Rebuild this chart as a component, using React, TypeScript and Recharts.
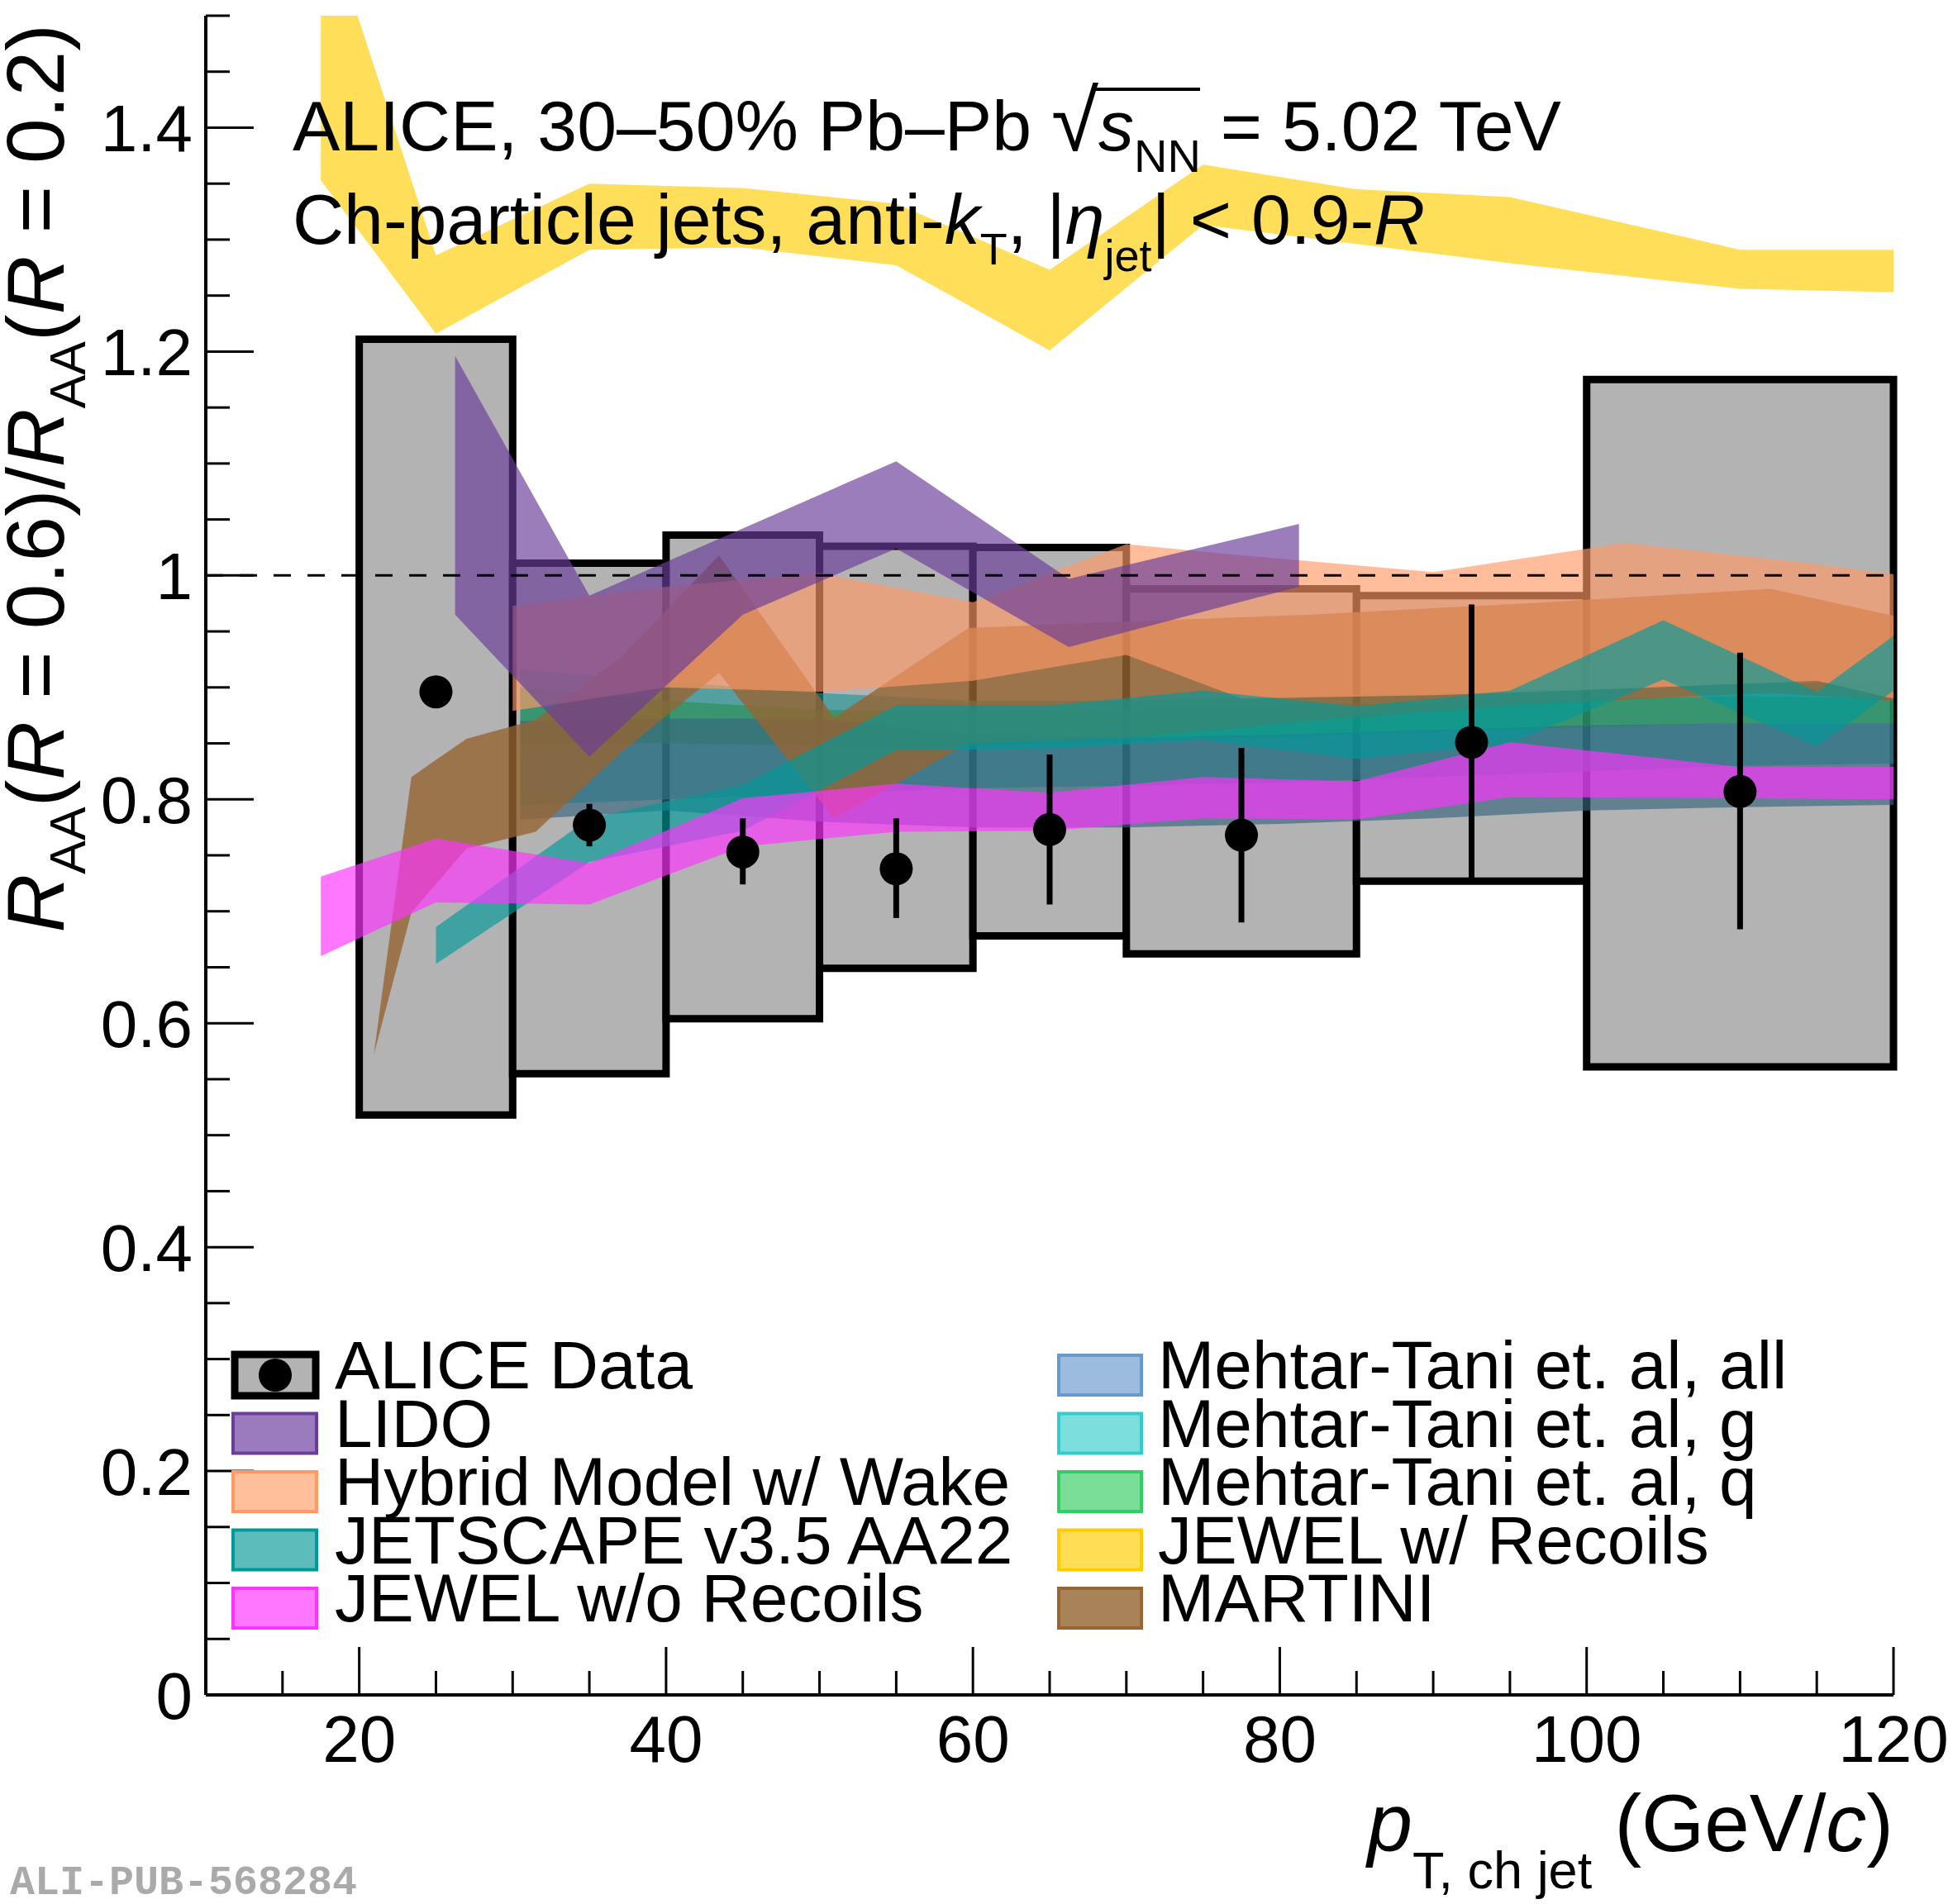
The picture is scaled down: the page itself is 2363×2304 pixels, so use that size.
import React from 'react';
import {
  ComposedChart,
  Area,
  Scatter,
  ErrorBar,
  XAxis,
  YAxis,
  ReferenceArea,
  ReferenceLine,
} from 'recharts';

const W = 2363;
const H = 2304;
const FONT = '"Liberation Sans", Arial, Helvetica, sans-serif';

// ALICE data: bins, ratio, stat and sys uncertainties
const binLow = [20, 30, 40, 50, 60, 70, 85, 100];
const binHigh = [30, 40, 50, 60, 70, 85, 100, 120];
const ptCenter = [25, 35, 45, 55, 65, 77.5, 92.5, 110];
const ratio = [0.896, 0.777, 0.753, 0.738, 0.773, 0.768, 0.851, 0.807];
const statUp = [0.01, 0.019, 0.03, 0.045, 0.067, 0.078, 0.123, 0.124];
const statDown = [0.01, 0.019, 0.029, 0.044, 0.067, 0.078, 0.121, 0.123];
const sysLow = [0.518, 0.555, 0.604, 0.649, 0.678, 0.662, 0.727, 0.561];
const sysHigh = [1.211, 1.011, 1.036, 1.026, 1.025, 0.988, 0.982, 1.175];

// model bands
const jewelX = [17.5, 25, 35, 45, 55, 65, 75, 85, 95, 110, 120];
const jewelRecLow = [1.353, 1.216, 1.291, 1.293, 1.277, 1.201, 1.313, 1.296, 1.279, 1.256, 1.253];
const jewelRecHigh = [1.6, 1.286, 1.35, 1.346, 1.332, 1.273, 1.367, 1.345, 1.338, 1.291, 1.291];
const jewelNoRecLow = [0.66, 0.708, 0.706, 0.758, 0.771, 0.772, 0.783, 0.782, 0.802, 0.801, 0.8];
const jewelNoRecHigh = [0.731, 0.765, 0.743, 0.801, 0.814, 0.806, 0.82, 0.816, 0.851, 0.829, 0.829];

const lidoX = [26.25, 35, 45, 55, 66.25, 81.25];
const lidoLow = [0.965, 0.838, 0.965, 1.024, 0.936, 0.99];
const lidoHigh = [1.196, 0.982, 1.042, 1.102, 0.997, 1.046];

const hybridX = [30, 40, 50, 60, 70, 77.5, 90, 102.5, 115, 120];
const hybridLow = [0.879, 0.9, 0.896, 0.906, 0.929, 0.89, 0.893, 0.899, 0.906, 0.89];
const hybridHigh = [0.973, 0.99, 1.002, 0.976, 1.028, 1.018, 1.003, 1.029, 1.01, 1.001];

const jetscapeX = [25, 35, 45, 55, 65, 75, 85, 95, 105, 115, 120];
const jetscapeLow = [0.653, 0.744, 0.772, 0.844, 0.845, 0.853, 0.836, 0.85, 0.907, 0.847, 0.897];
const jetscapeHigh = [0.686, 0.783, 0.813, 0.884, 0.884, 0.897, 0.883, 0.897, 0.96, 0.896, 0.946];

const martiniX = [20.95, 23.4, 27, 31.5, 37, 43.45, 50.95, 59.7, 70, 82, 96, 112, 120];
const martiniLow = [0.572, 0.699, 0.756, 0.771, 0.841, 0.913, 0.783, 0.85, 0.855, 0.87, 0.885, 0.895, 0.888];
const martiniHigh = [0.572, 0.82, 0.854, 0.871, 0.926, 1.018, 0.873, 0.953, 0.959, 0.965, 0.975, 0.988, 0.964];

const mehtarX = [30.5, 40, 50, 60, 70, 80, 90, 100, 110, 120];
const mehtarAllLow = [0.782, 0.79, 0.78, 0.775, 0.775, 0.778, 0.783, 0.79, 0.793, 0.795];
const mehtarAllHigh = [0.87, 0.872, 0.872, 0.858, 0.855, 0.858, 0.862, 0.866, 0.868, 0.868];
const mehtarGLow = [0.795, 0.8, 0.805, 0.81, 0.812, 0.815, 0.82, 0.825, 0.83, 0.832];
const mehtarGHigh = [0.916, 0.905, 0.895, 0.888, 0.888, 0.892, 0.895, 0.9, 0.903, 0.905];
const mehtarQLow = [0.85, 0.85, 0.848, 0.848, 0.852, 0.856, 0.86, 0.865, 0.868, 0.868];
const mehtarQHigh = [0.9, 0.888, 0.88, 0.878, 0.88, 0.884, 0.886, 0.89, 0.892, 0.89];

const xTicks = [15, 20, 25, 30, 35, 40, 45, 50, 55, 60, 65, 70, 75, 80, 85, 90, 95, 100, 105, 110, 115, 120];
const yTicks = [0, 0.05, 0.1, 0.15, 0.2, 0.25, 0.3, 0.35, 0.4, 0.45, 0.5, 0.55, 0.6, 0.65, 0.7, 0.75,
  0.8, 0.85, 0.9, 0.95, 1, 1.05, 1.1, 1.15, 1.2, 1.25, 1.3, 1.35, 1.4, 1.45, 1.5];

const band = (x: number[], lo: number[], hi: number[]) =>
  x.map((v, i) => ({ x: v, r: [lo[i], hi[i]] }));

// drawing order matters for the overlaps
const models = [
  { name: 'Mehtar-Tani g', data: band(mehtarX, mehtarGLow, mehtarGHigh), color: '#229696', alpha: 0.65 },
  { name: 'Mehtar-Tani q', data: band(mehtarX, mehtarQLow, mehtarQHigh), color: '#2b8f55', alpha: 0.65 },
  { name: 'Mehtar-Tani all', data: band(mehtarX, mehtarAllLow, mehtarAllHigh), color: '#38667e', alpha: 0.65 },
  { name: 'MARTINI', data: band(martiniX, martiniLow, martiniHigh), color: '#966432', alpha: 0.8 },
  { name: 'Hybrid', data: band(hybridX, hybridLow, hybridHigh), color: '#ff9966', alpha: 0.65 },
  { name: 'JETSCAPE', data: band(jetscapeX, jetscapeLow, jetscapeHigh), color: '#009999', alpha: 0.65 },
  { name: 'LIDO', data: band(lidoX, lidoLow, lidoHigh), color: '#6a3d9a', alpha: 0.67 },
  { name: 'JEWEL w/o', data: band(jewelX, jewelNoRecLow, jewelNoRecHigh), color: '#ff33ff', alpha: 0.67 },
  { name: 'JEWEL w/', data: band(jewelX, jewelRecLow, jewelRecHigh), color: '#ffcc00', alpha: 0.65 },
];

const points = ptCenter.map((x, i) => ({ x, y: ratio[i], err: [statDown[i], statUp[i]] }));

const legendLeft = [
  { label: 'LIDO', fill: '#9b7bbd', stroke: '#6a3d9a' },
  { label: 'Hybrid Model w/ Wake', fill: '#ffbf9b', stroke: '#ff9966' },
  { label: 'JETSCAPE v3.5 AA22', fill: '#5cbcbc', stroke: '#009999' },
  { label: 'JEWEL w/o Recoils', fill: '#ff77ff', stroke: '#ff33ff' },
];
const legendRight = [
  { label: 'Mehtar-Tani et. al, all', fill: '#9bbbdf', stroke: '#6699cc' },
  { label: 'Mehtar-Tani et. al, g', fill: '#7ddede', stroke: '#33cccc' },
  { label: 'Mehtar-Tani et. al, q', fill: '#7ade99', stroke: '#33cc66' },
  { label: 'JEWEL w/ Recoils', fill: '#ffdd55', stroke: '#ffcc00' },
  { label: 'MARTINI', fill: '#a8835a', stroke: '#996633' },
];

const isMajorX = (v: number) => v % 20 === 0;
const isMajorY = (v: number) => Math.abs(v * 5 - Math.round(v * 5)) < 1e-6;
const MAJOR = 58;
const MINOR = 29;

const BottomTick = (props: any) => {
  const { x, y, payload } = props;
  const v = payload.value;
  const major = isMajorX(v);
  return (
    <g>
      <line x1={x} x2={x} y1={y} y2={y - (major ? MAJOR : MINOR)} stroke="#000" strokeWidth={3} />
      {major && (
        <text x={x} y={y + 81} textAnchor="middle" fontSize={80} fontFamily={FONT} fill="#000">
          {v}
        </text>
      )}
    </g>
  );
};

const TopTick = (props: any) => {
  const { x, y, payload } = props;
  const len = isMajorX(payload.value) ? MAJOR : MINOR;
  return <line x1={x} x2={x} y1={y} y2={y + len} stroke="#000" strokeWidth={3} />;
};

const LeftTick = (props: any) => {
  const { x, y, payload } = props;
  const v = payload.value;
  const major = isMajorY(v);
  return (
    <g>
      <line x1={x} x2={x + (major ? MAJOR : MINOR)} y1={y} y2={y} stroke="#000" strokeWidth={3} />
      {major && (
        <text x={x - 16} y={y + 29} textAnchor="end" fontSize={80} fontFamily={FONT} fill="#000">
          {String(Math.round(v * 10) / 10)}
        </text>
      )}
    </g>
  );
};

const RightTick = (props: any) => {
  const { x, y, payload } = props;
  const len = isMajorY(payload.value) ? MAJOR : MINOR;
  return <line x1={x} x2={x - len} y1={y} y2={y} stroke="#000" strokeWidth={3} />;
};

const frame = { stroke: '#000', strokeWidth: 4 };

const Overlay = () => {
  const rowY = (i: number) => 1664 + i * 70.5;
  return (
    <svg
      width={W}
      height={H}
      style={{ position: 'absolute', left: 0, top: 0, pointerEvents: 'none', whiteSpace: 'pre' }}
      fontFamily={FONT}
    >
      {/* header */}
      <text x={354} y={182} fontSize={86} fill="#000">
        ALICE, 30–50% Pb–Pb <tspan fontSize={104}>√</tspan>
        <tspan fontStyle="italic">s</tspan>
        <tspan fontSize={56} dy={26}>NN</tspan>
        <tspan dy={-26}> = 5.02 TeV</tspan>
      </text>
      <line x1={1322} x2={1452} y1={108} y2={108} stroke="#000" strokeWidth={4} />
      <text x={354} y={295} fontSize={86} fill="#000">
        Ch-particle jets, anti-<tspan fontStyle="italic">k</tspan>
        <tspan fontSize={54} dy={25}>T</tspan>
        <tspan dy={-25}>, |</tspan>
        <tspan fontStyle="italic">η</tspan>
        <tspan fontSize={54} dy={33}>jet</tspan>
        <tspan dy={-33}>| &lt; 0.9-</tspan>
        <tspan fontStyle="italic">R</tspan>
      </text>

      {/* axis titles */}
      <text transform="translate(77,29) rotate(-90)" textAnchor="end" fontSize={98} fill="#000">
        <tspan fontStyle="italic">R</tspan>
        <tspan fontSize={61} dy={26}>AA</tspan>
        <tspan dy={-26}>(</tspan>
        <tspan fontStyle="italic">R</tspan>
        <tspan> = 0.6)/</tspan>
        <tspan fontStyle="italic">R</tspan>
        <tspan fontSize={61} dy={26}>AA</tspan>
        <tspan dy={-26}>(</tspan>
        <tspan fontStyle="italic">R</tspan>
        <tspan> = 0.2)</tspan>
      </text>
      <text x={2291} y={2240} textAnchor="end" fontSize={98} fill="#000">
        <tspan fontStyle="italic">p</tspan>
        <tspan fontSize={63} dy={45}>T, ch jet</tspan>
        <tspan dy={-45}> (GeV/</tspan>
        <tspan fontStyle="italic">c</tspan>
        <tspan>)</tspan>
      </text>

      {/* legend */}
      <rect x={284} y={1639} width={98} height={50} fill="#b3b3b3" stroke="#000" strokeWidth={9} />
      <circle cx={333} cy={rowY(0)} r={20} fill="#000" />
      <text x={405} y={rowY(0) + 16} fontSize={82} fill="#000">ALICE Data</text>
      {legendLeft.map((e, i) => (
        <g key={e.label}>
          <rect x={282} y={rowY(i + 1) - 24} width={101} height={48} fill={e.fill} stroke={e.stroke} strokeWidth={4} />
          <text x={405} y={rowY(i + 1) + 16} fontSize={82} fill="#000">{e.label}</text>
        </g>
      ))}
      {legendRight.map((e, i) => (
        <g key={e.label}>
          <rect x={1281} y={rowY(i) - 24} width={100} height={48} fill={e.fill} stroke={e.stroke} strokeWidth={4} />
          <text x={1401} y={rowY(i) + 16} fontSize={82} fill="#000">{e.label}</text>
        </g>
      ))}

      <text x={12} y={2292} fontSize={50} fontWeight="bold" fontFamily='"Liberation Mono", "DejaVu Sans Mono", monospace' fill="#aaaaaa">
        ALI-PUB-568284
      </text>
    </svg>
  );
};

export default function App() {
  return (
    <div style={{ position: 'absolute', left: 0, top: 0, width: W, height: H, background: '#fff', fontFamily: FONT }}>
      <ComposedChart width={W} height={H} margin={{ top: 19, right: 72, bottom: 0, left: 0 }}>
        <XAxis
          xAxisId={0}
          dataKey="x"
          type="number"
          domain={[10, 120]}
          ticks={xTicks}
          interval={0}
          allowDataOverflow
          height={253}
          tickLine={false}
          tickSize={0}
          tickMargin={0}
          axisLine={frame}
          tick={BottomTick}
        />
        <XAxis
          xAxisId="top"
          dataKey="x"
          orientation="top"
          type="number"
          domain={[10, 120]}
          ticks={xTicks}
          interval={0}
          allowDataOverflow
          height={0}
          tickLine={false}
          tickSize={0}
          tickMargin={0}
          axisLine={frame}
          tick={TopTick}
        />
        <YAxis
          yAxisId={0}
          type="number"
          domain={[0, 1.5]}
          ticks={yTicks}
          interval={0}
          allowDataOverflow
          width={249}
          tickLine={false}
          tickSize={0}
          tickMargin={0}
          axisLine={frame}
          tick={LeftTick}
        />
        <YAxis
          yAxisId="right"
          orientation="right"
          type="number"
          domain={[0, 1.5]}
          ticks={yTicks}
          interval={0}
          allowDataOverflow
          width={0}
          tickLine={false}
          tickSize={0}
          tickMargin={0}
          axisLine={frame}
          tick={RightTick}
        />

        {binLow.map((lo, i) => (
          <ReferenceArea
            key={'sys' + i}
            x1={lo}
            x2={binHigh[i]}
            y1={sysLow[i]}
            y2={sysHigh[i]}
            fill="#b3b3b3"
            fillOpacity={1}
            stroke="#000"
            strokeWidth={9}
            zIndex={10}
          />
        ))}

        {models.map((m) => (
          <Area
            key={m.name}
            data={m.data}
            dataKey="r"
            type="linear"
            stroke="none"
            fill={m.color}
            fillOpacity={m.alpha}
            dot={false}
            activeDot={false}
            isAnimationActive={false}
            zIndex={100}
          />
        ))}

        <ReferenceLine y={1} stroke="#000" strokeWidth={3} strokeDasharray="21 20" zIndex={400} />

        <Scatter
          data={points}
          dataKey="y"
          isAnimationActive={false}
          zIndex={600}
          shape={(p: any) => <circle cx={p.cx} cy={p.cy} r={20} fill="#000" />}
        >
          <ErrorBar dataKey="err" direction="y" width={0} stroke="#000" strokeWidth={7} isAnimationActive={false} />
        </Scatter>
      </ComposedChart>
      <Overlay />
    </div>
  );
}
